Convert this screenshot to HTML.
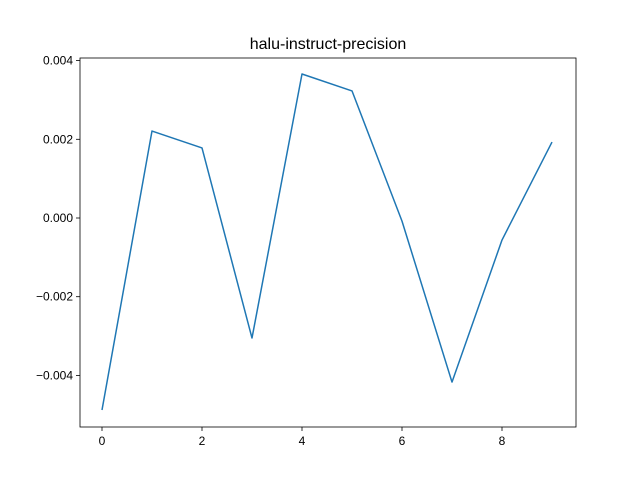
<!DOCTYPE html>
<html><head><meta charset="utf-8"><style>body{margin:0;background:#fff}svg{display:block;font-family:"Liberation Sans","DejaVu Sans",sans-serif}</style></head>
<body>
<svg id="chart" width="640" height="480"></svg>
<script>
const xValues=[0,1,2,3,4,5,6,7,8,9];
const yValues=[-0.00488,0.00221,0.00178,-0.00305,0.00366,0.00323,-0.00008,-0.00417,-0.00056,0.00193];
const xTicks=[0,2,4,6,8];
const yTicks=[-0.004,-0.002,0.000,0.002,0.004];
const yTickLabels=["−0.004","−0.002","0.000","0.002","0.004"];
const NS="http://www.w3.org/2000/svg";
const svg=document.getElementById('chart');
const L=80,R=576,T=58,B=427;
function sx(v){return 102+(v-0)*50;}
function sy(v){return 218-v*39350;}
function mk(t,a,p){const e=document.createElementNS(NS,t);for(const k in a)e.setAttribute(k,a[k]);(p||svg).appendChild(e);return e;}
const title=mk('text',{x:328,y:49,'text-anchor':'middle','font-size':16,fill:'#000'});


title.textContent='halu-instruct-precision';
const xg=mk('g',{});


xTicks.forEach(v=>{const x=sx(v);mk('line',{x1:x,x2:x,y1:B,y2:B+4,stroke:'#000','stroke-width':0.8},xg);
const t=mk('text',{x:x,y:B+18,'text-anchor':'middle','font-size':12,fill:'#000'},xg);


t.textContent=v;});
const yg=mk('g',{});


yTicks.forEach((v,i)=>{const y=sy(v);mk('line',{x1:L-4,x2:L,y1:y,y2:y,stroke:'#000','stroke-width':0.8},yg);
const t=mk('text',{x:L-7,y:y+4,'text-anchor':'end','font-size':12,fill:'#000'},yg);


t.textContent=yTickLabels[i];});
const line=mk('polyline',{points:xValues.map((x,i)=>sx(x)+','+sy(yValues[i])).join(' '),fill:'none',stroke:'#1f77b4','stroke-width':1.5,'stroke-linejoin':'round'});


const frame=mk('rect',{x:L,y:T,width:R-L,height:B-T,fill:'none',stroke:'#000','stroke-width':0.8});


</script>
</body></html>
